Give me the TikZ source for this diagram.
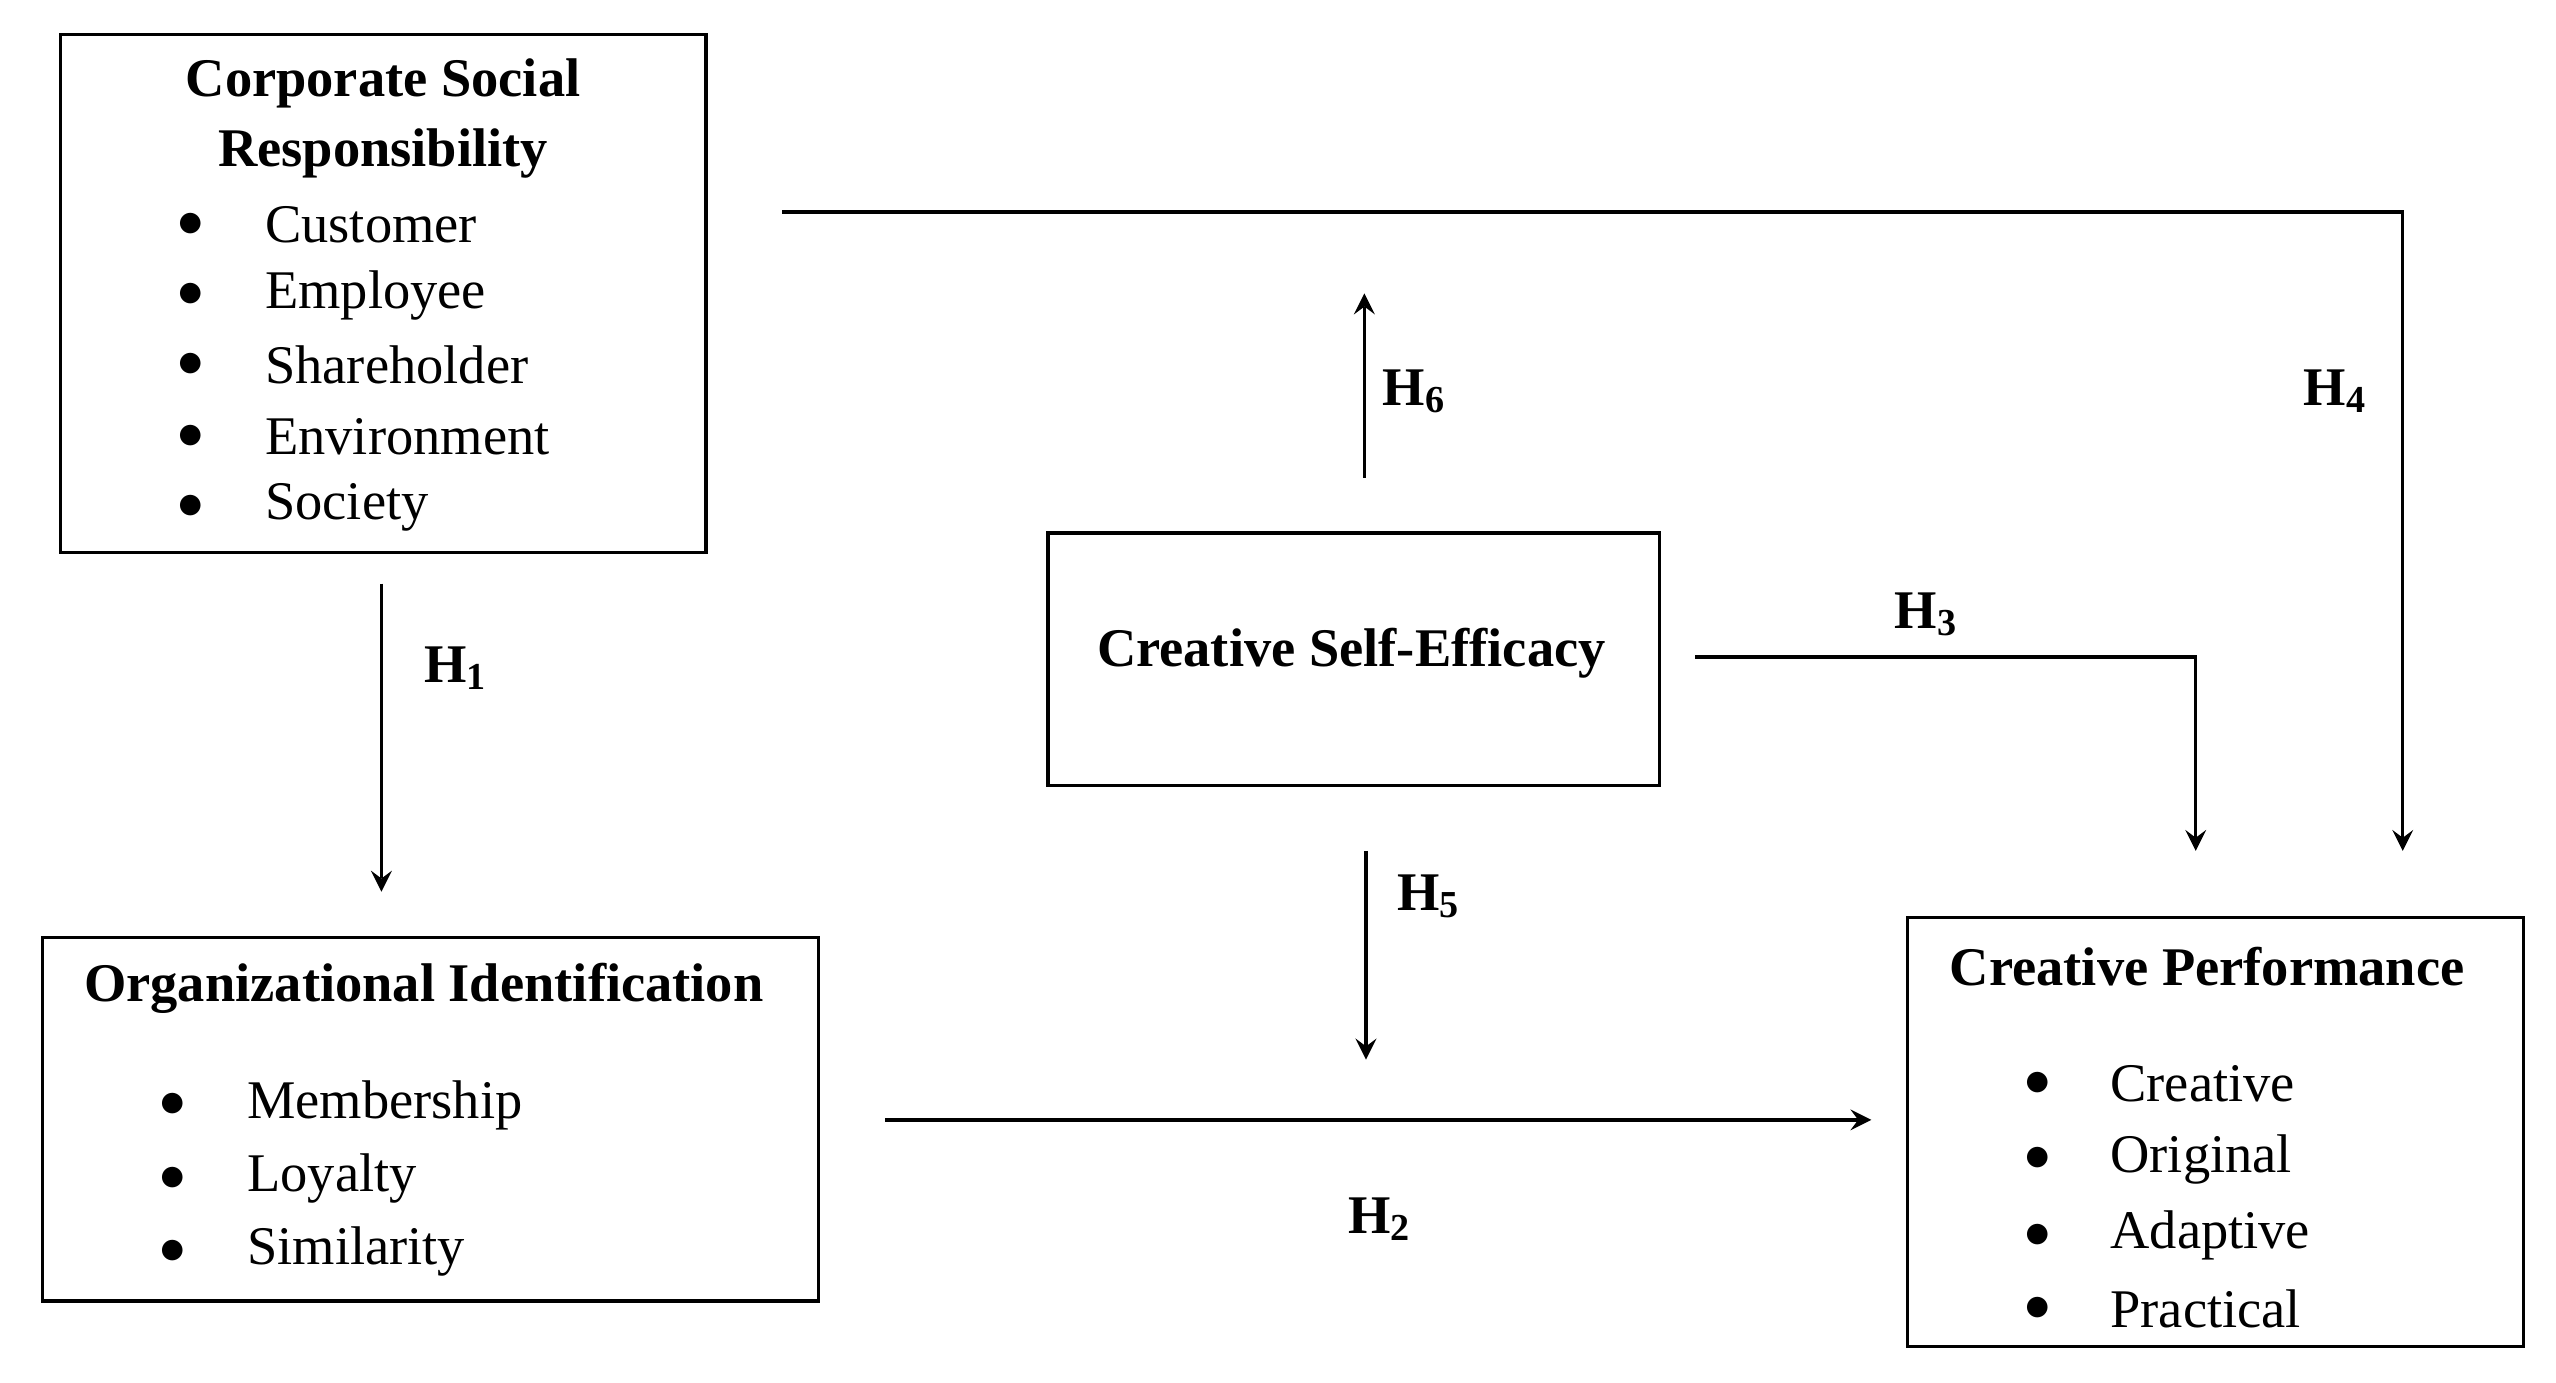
\documentclass[tikz,border=0pt]{standalone}
\usepackage{fontspec}
\setmainfont{Liberation Serif}
\begin{document}
\begin{tikzpicture}[x=0.01cm,y=-0.01cm,
  box/.style={draw,line width=0.6pt},
  t/.style={font=\fontsize{9.5}{11}\selectfont,inner sep=0pt},
  tb/.style={t,font=\fontsize{9.5}{11}\selectfont\bfseries},
  bl/.style={t,anchor=west},
  ar/.style={->,>=stealth,line width=0.6pt},
  ln/.style={line width=0.6pt}]
\useasboundingbox (0,0) rectangle (1568,848);
% boxes
\draw[box] (37,21) rectangle (433,339);
\draw[box] (26,575) rectangle (502,798);
\draw[box] (643,327) rectangle (1018,482);
\draw[box] (1170,563) rectangle (1548,826);
% CSR
\node[tb] (c1) at (235,51) {Corporate Social};
\node[tb] (c2) at (235,94) {Responsibility};
\foreach \y/\s [count=\i] in {138/Customer,181/Employee,224/Shareholder,268/Environment,311/Society}{
  \node[t] (cb\i) at (117,\y) {$\bullet$};
  \node[bl] (ct\i) at (162,\y) {\s};}
% OI
\node[tb] (o1) at (260,606) {Organizational Identification};
\foreach \y/\s [count=\i] in {678/Membership,723/Loyalty,768/Similarity}{
  \node[t] (ob\i) at (106,\y) {$\bullet$};
  \node[bl] (ot\i) at (151,\y) {\s};}
% CSE
\node[tb] (e1) at (829,401) {Creative Self-Efficacy};
% CP
\node[tb] (p1) at (1354,593) {Creative Performance};
\foreach \y/\s [count=\i] in {665/Creative,711/Original,758/Adaptive,803/Practical}{
  \node[t] (pb\i) at (1250,\y) {$\bullet$};
  \node[bl] (pt\i) at (1294,\y) {\s};}
% coordinates
\coordinate (a1) at (234,358); \coordinate (a2) at (234,547);
\coordinate (b1) at (837,293); \coordinate (b2) at (837,180);
\coordinate (d1) at (480,130); \coordinate (d2) at (1474,130); \coordinate (d3) at (1474,522);
\coordinate (f1) at (1040,403); \coordinate (f2) at (1347,403); \coordinate (f3) at (1347,522);
\coordinate (g1) at (838,522); \coordinate (g2) at (838,650);
\coordinate (h1) at (543,687); \coordinate (h2) at (1148,687);
\draw[ar] (a1) -- (a2);
\draw[ar] (b1) -- (b2);
\draw[ar] (d1) -- (d2) -- (d3);
\draw[ar] (f1) -- (f2) -- (f3);
\draw[ar] (g1) -- (g2);
\draw[ar] (h1) -- (h2);
% labels
\node[tb] (l1) at (280,410) {H\textsubscript{1}};
\node[tb] (l6) at (868,240) {H\textsubscript{6}};
\node[tb] (l4) at (1433,240) {H\textsubscript{4}};
\node[tb] (l3) at (1182,377) {H\textsubscript{3}};
\node[tb] (l5) at (877,550) {H\textsubscript{5}};
\node[tb] (l2) at (847,748) {H\textsubscript{2}};
\end{tikzpicture}
\end{document}
